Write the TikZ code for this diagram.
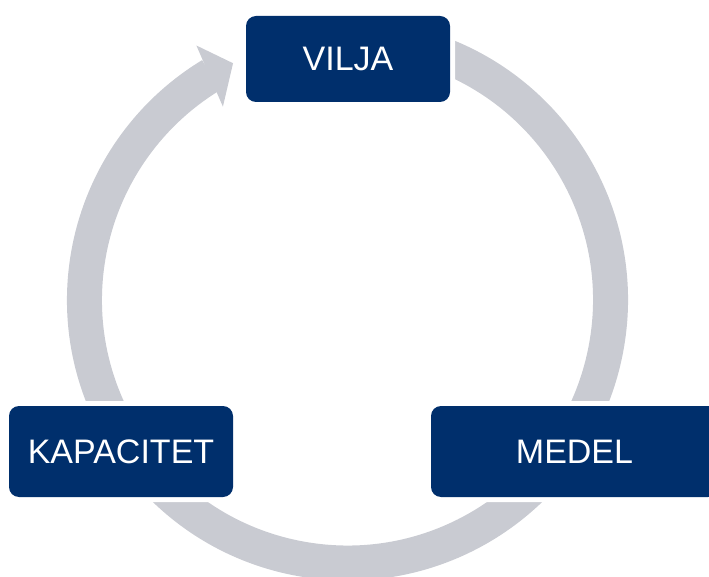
\documentclass[tikz,border=0pt]{standalone}
\usepackage{fontspec}
\setmainfont{Liberation Sans}
\definecolor{navy}{RGB}{0,47,108}
\definecolor{ringgray}{RGB}{201,203,210}

\begin{document}
\begin{tikzpicture}[x=1pt, y=1pt,
  stage/.style = {shape=rectangle, rounded corners=10pt,
    fill=navy, text=white, inner sep=0pt, align=center,
    font=\fontsize{34}{40}\selectfont,
    preaction={draw=white, line width=10pt}}]
  \useasboundingbox (0,0) rectangle (709,576);
  \clip (0,0) rectangle (709,576);
  \coordinate (c) at (347.5,276);
  % the ring, running clockwise, with its head at the top left
  \draw[ringgray, line width=35pt] (c) ++(80:263pt)
    arc[start angle=80, end angle=-238.8, radius=263pt];
  \fill[ringgray] (c) +(120.7:296pt) -- +(115.8:263pt) -- +(122.8:230pt) -- cycle;
  % the three stages
  \node[stage, minimum width=204pt, minimum height=86pt] (vilja) at (348,517) {VILJA};
  \node[stage, minimum width=224pt, minimum height=91pt] (kapacitet) at (121,124.5) {KAPACITET};
  \node[stage, minimum width=287pt, minimum height=91pt] (medel) at (574.5,124.5) {MEDEL};
\end{tikzpicture}
\end{document}
